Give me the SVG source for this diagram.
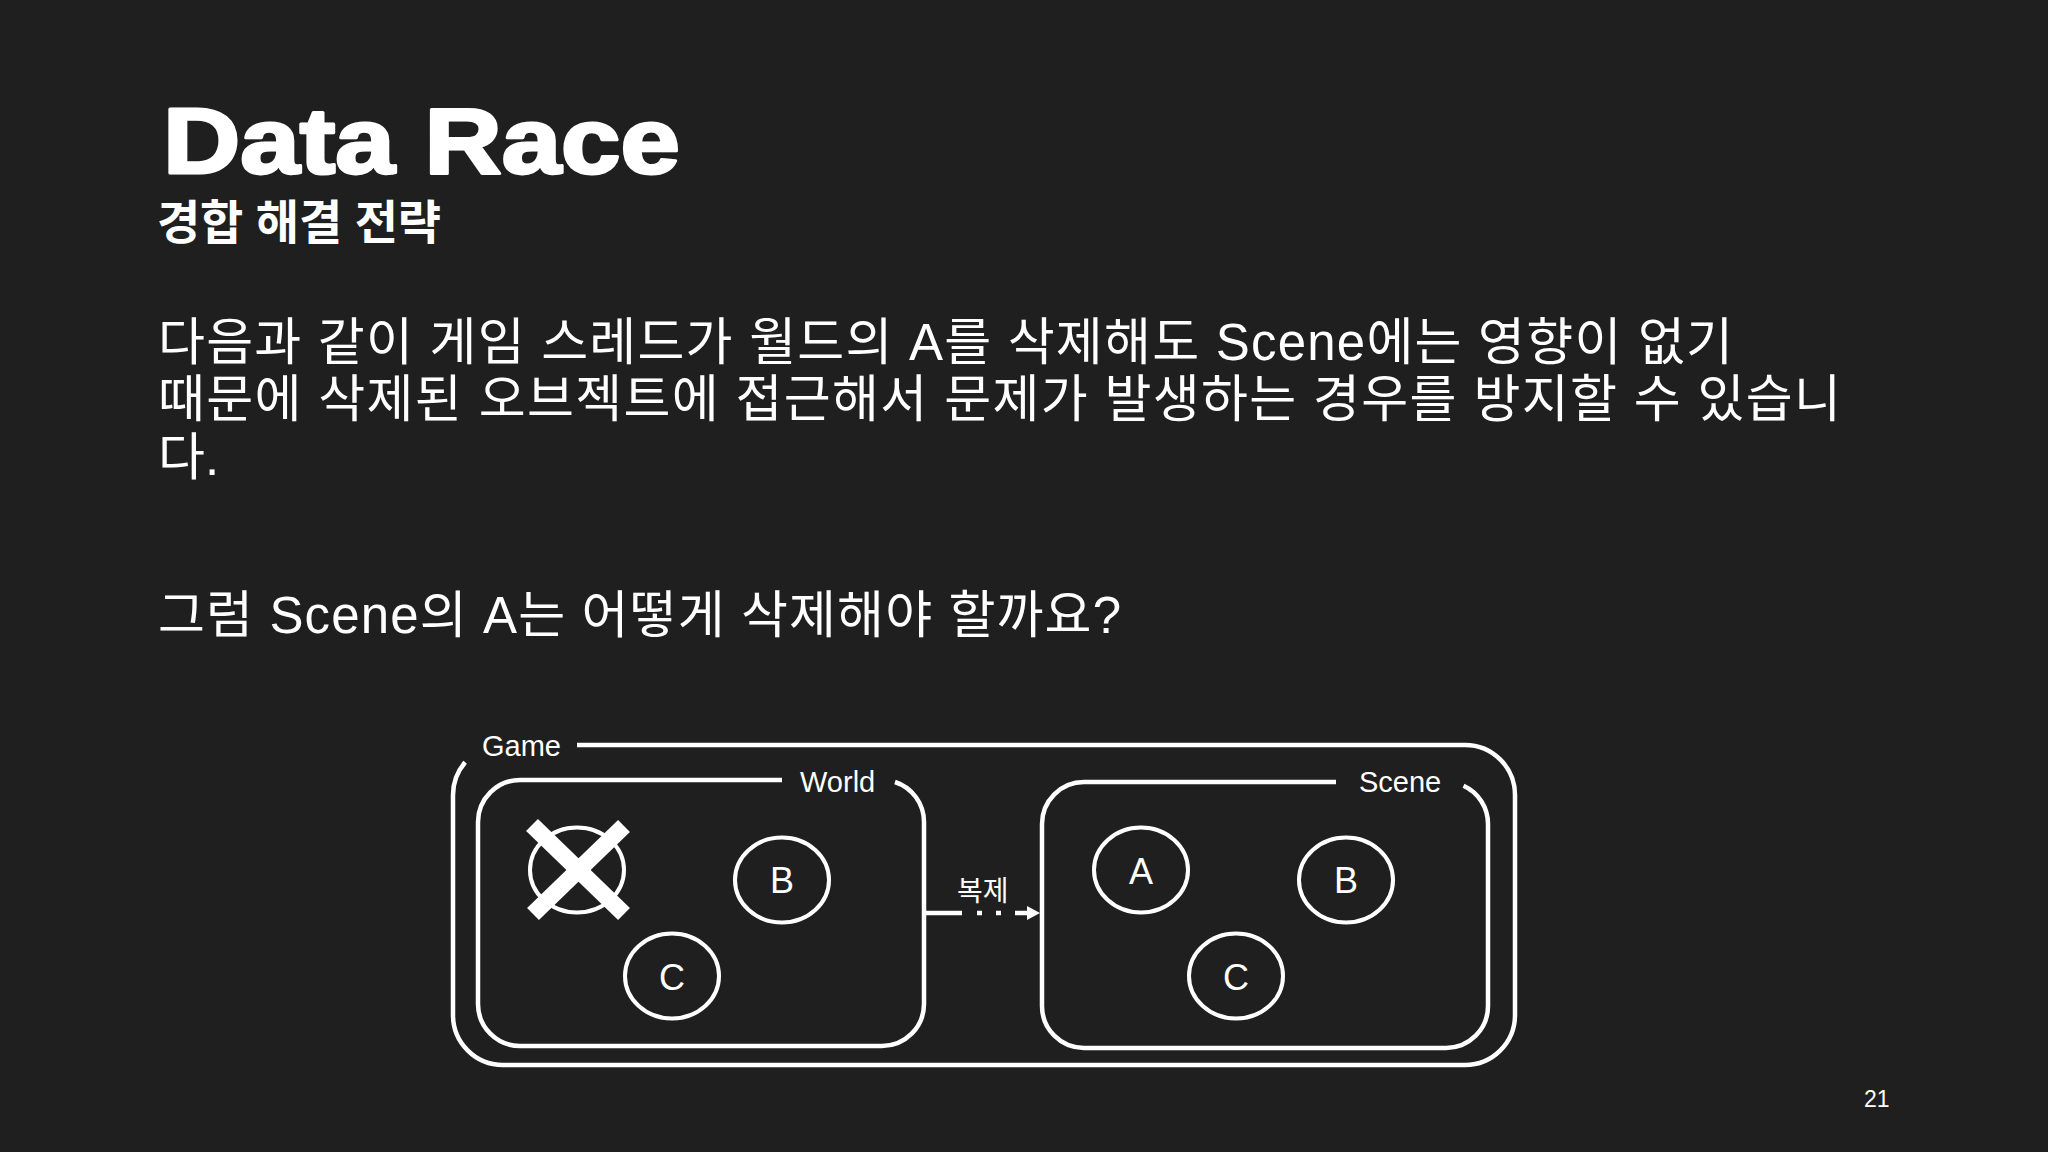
<svg xmlns="http://www.w3.org/2000/svg" width="2048" height="1152" viewBox="0 0 2048 1152">
  <style>
    .bg { fill: #1f1f1f; }
    .t { fill: #ffffff; font-family: "Liberation Sans", "Noto Sans CJK KR", sans-serif; }
    .title { font-weight: bold; font-size: 92px; stroke: #ffffff; stroke-width: 3px; stroke-linejoin: round; }
    .sub { font-weight: bold; font-size: 47px; }
    .body { font-size: 51px; }
    .lbl { font-size: 29px; }
    .nlbl { font-size: 36px; text-anchor: middle; }
    .box { fill: none; stroke: #ffffff; stroke-width: 4.5; stroke-linecap: butt; }
    .node { fill: none; stroke: #ffffff; stroke-width: 4; }
    .conn { fill: none; stroke: #ffffff; stroke-width: 4.5; }
  </style>
  <rect class="bg" x="0" y="0" width="2048" height="1152"/>

  <text class="t title" x="163" y="173" textLength="517" lengthAdjust="spacingAndGlyphs">Data Race</text>
  <text class="t sub" x="157" y="239" textLength="284">경합 해결 전략</text>

  <text class="t body" x="158" y="360" textLength="1575">다음과 같이 게임 스레드가 월드의 A를 삭제해도 Scene에는 영향이 없기</text>
  <text class="t body" x="158" y="417" textLength="1683">때문에 삭제된 오브젝트에 접근해서 문제가 발생하는 경우를 방지할 수 있습니</text>
  <text class="t body" x="158" y="475">다.</text>
  <text class="t body" x="158" y="633" textLength="963">그럼 Scene의 A는 어떻게 삭제해야 할까요?</text>

  <g id="game">
    <path class="box" d="M577,745 H1465 A50,50 0 0 1 1515,795 V1015 A50,50 0 0 1 1465,1065 H503 A50,50 0 0 1 453,1015 V795 A50,50 0 0 1 465.2,762.2"/>
    <text class="t lbl" x="482" y="756">Game</text>
  </g>

  <g id="world">
    <path class="box" d="M782,780 H520 A42,42 0 0 0 478,822 V1004 A42,42 0 0 0 520,1046 H882 A42,42 0 0 0 924,1004 V822 A42,42 0 0 0 895,782"/>
    <text class="t lbl" x="800" y="792">World</text>
  </g>

  <g id="world-a-deleted">
    <ellipse class="node" cx="577" cy="870" rx="47" ry="42.5"/>
    <line x1="532" y1="825" x2="624" y2="914" stroke="#ffffff" stroke-width="17"/>
    <line x1="624" y1="826" x2="533" y2="914" stroke="#ffffff" stroke-width="17"/>
  </g>
  <g id="world-b">
    <ellipse class="node" cx="782" cy="880" rx="47" ry="42.5"/>
    <text class="t nlbl" x="782" y="893">B</text>
  </g>
  <g id="world-c">
    <ellipse class="node" cx="672" cy="976" rx="47" ry="42.5"/>
    <text class="t nlbl" x="672" y="990">C</text>
  </g>

  <g id="scene">
    <path class="box" d="M1336,782 H1084 A42,42 0 0 0 1042,824 V1006 A42,42 0 0 0 1084,1048 H1446 A42,42 0 0 0 1488,1006 V824 A42,42 0 0 0 1463.5,785.8"/>
    <text class="t lbl" x="1359" y="792">Scene</text>
  </g>

  <g id="scene-a">
    <ellipse class="node" cx="1141" cy="870" rx="47" ry="42.5"/>
    <text class="t nlbl" x="1141" y="884">A</text>
  </g>
  <g id="scene-b">
    <ellipse class="node" cx="1346" cy="880" rx="47" ry="42.5"/>
    <text class="t nlbl" x="1346" y="893">B</text>
  </g>
  <g id="scene-c">
    <ellipse class="node" cx="1236" cy="976" rx="47" ry="42.5"/>
    <text class="t nlbl" x="1236" y="990">C</text>
  </g>

  <g id="connectors">
    <path class="conn" d="M924,913 H1028" stroke-dasharray="38 15 5 14 5 14 20"/>
    <polygon points="1027,906 1040,913 1027,920" fill="#ffffff"/>
    <text class="t lbl" x="957" y="901" style="font-size:28px">복제</text>
  </g>

  <text class="t" x="1864" y="1107" style="font-size:23px">21</text>
</svg>
